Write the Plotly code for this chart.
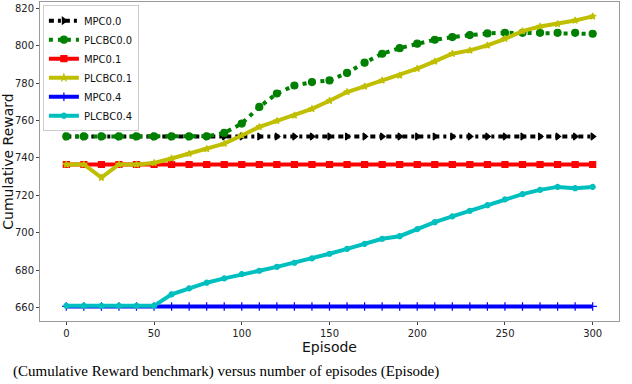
import plotly.graph_objects as go

# Episodes (x) and cumulative reward per method
episodes = [0, 10, 20, 30, 40, 50, 60, 70, 80, 90, 100, 110, 120, 130, 140, 150,
            160, 170, 180, 190, 200, 210, 220, 230, 240, 250, 260, 270, 280, 290, 300]

mpc_00 = [751.5, 751.5, 751.5, 751.5, 751.5, 751.5, 751.5, 751.5, 751.5, 751.5, 751.5,
          751.5, 751.5, 751.5, 751.5, 751.5, 751.5, 751.5, 751.5, 751.5, 751.5, 751.5,
          751.5, 751.5, 751.5, 751.5, 751.5, 751.5, 751.5, 751.5, 751.5]
plcbc_00 = [751.5, 751.5, 751.5, 751.5, 751.5, 751.5, 751.5, 751.5, 751.6, 753.4, 758.4,
            767.3, 774.5, 778.8, 780.6, 781.5, 785.5, 791.0, 795.8, 798.8, 801.2, 803.3,
            804.7, 805.8, 806.7, 807.0, 807.0, 807.0, 807.0, 807.0, 806.5]
mpc_01 = [736.5, 736.5, 736.5, 736.5, 736.5, 736.5, 736.5, 736.5, 736.5, 736.5, 736.5,
          736.5, 736.5, 736.5, 736.5, 736.5, 736.5, 736.5, 736.5, 736.5, 736.5, 736.5,
          736.5, 736.5, 736.5, 736.5, 736.5, 736.5, 736.5, 736.5, 736.5]
plcbc_01 = [736.5, 736.5, 729.5, 736.5, 736.5, 737.3, 739.7, 742.3, 744.8, 747.7, 752.0,
            756.6, 759.8, 762.8, 766.3, 770.6, 775.3, 778.3, 781.5, 784.2, 787.8, 791.7,
            795.8, 797.6, 800.3, 803.8, 807.9, 810.4, 811.8, 813.6, 815.8]
mpc_04 = [660.5, 660.5, 660.5, 660.5, 660.5, 660.5, 660.5, 660.5, 660.5, 660.5, 660.5,
          660.5, 660.5, 660.5, 660.5, 660.5, 660.5, 660.5, 660.5, 660.5, 660.5, 660.5,
          660.5, 660.5, 660.5, 660.5, 660.5, 660.5, 660.5, 660.5, 660.5]
plcbc_04 = [660.8, 660.8, 660.8, 660.8, 660.8, 660.8, 667.0, 670.2, 673.2, 675.5, 677.8,
            679.6, 681.7, 683.9, 686.2, 688.7, 691.3, 694.0, 696.7, 698.1, 701.9, 705.6,
            708.7, 711.7, 714.7, 717.8, 720.6, 722.9, 724.5, 723.8, 724.5]

x_ticks = [0, 50, 100, 150, 200, 250, 300]
y_ticks = [660, 680, 700, 720, 740, 760, 780, 800, 820]

series = [
    ("MPC0.0", mpc_00, "black", "5px,4px,3px,4px", "triangle-right", 6),
    ("PLCBC0.0", plcbc_00, "#008000", "4px,5px", "circle", 7),
    ("MPC0.1", mpc_01, "#ff0000", "solid", "square", 6),
    ("PLCBC0.1", plcbc_01, "#bfbf00", "solid", "star", 5),
    ("MPC0.4", mpc_04, "#0000ff", "solid", "cross-thin-open", 6),
    ("PLCBC0.4", plcbc_04, "#00bfbf", "solid", "circle", 5),
]

fig = go.Figure()
for name, values, color, dash, symbol, size in series:
    fig.add_trace(go.Scatter(
        x=episodes, y=values, name=name, mode="lines+markers",
        line=dict(color=color, width=4, dash=dash),
        marker=dict(symbol=symbol, size=size, color=color,
                    line=dict(color=color, width=1.2)),
    ))

axis_style = dict(
    showline=True, mirror=True, linecolor="#9a9a9a", linewidth=1,
    showgrid=False, zeroline=False, ticks="outside", ticklen=3,
    tickcolor="#444", tickfont=dict(size=10, color="#222"),
    automargin=False,
)

fig.update_layout(
    width=632, height=384,
    margin=dict(l=40, r=13, t=2, b=63),
    plot_bgcolor="white", paper_bgcolor="white",
    font=dict(family="DejaVu Sans", color="#111"),
    xaxis=dict(range=[-15, 315], tickvals=x_ticks,
               title=dict(text="Episode", font=dict(size=14), standoff=1),
               **axis_style),
    yaxis=dict(range=[652.7, 823.5], tickvals=y_ticks,
               title=dict(text="Cumulative Reward", font=dict(size=14), standoff=4),
               **axis_style),
    legend=dict(x=0.005, y=0.99, xanchor="left", yanchor="top",
                bgcolor="white", bordercolor="#cccccc", borderwidth=1,
                font=dict(size=10), itemwidth=30, tracegroupgap=0),
)

# caption of the source figure, sitting at the bottom edge
fig.add_annotation(
    text="(Cumulative Reward benchmark) versus number of episodes (Episode)",
    xref="paper", yref="paper", x=-0.05, y=-0.19,
    xanchor="left", yanchor="bottom", showarrow=False,
    font=dict(family="Liberation Serif", size=15, color="black"),
)

# drop the browser's default page margin so the figure starts at the corner
fig.write_html(
    "out.html",
    config={"displayModeBar": False},
    post_script="document.body.style.margin='0';document.body.style.overflow='hidden';",
)
